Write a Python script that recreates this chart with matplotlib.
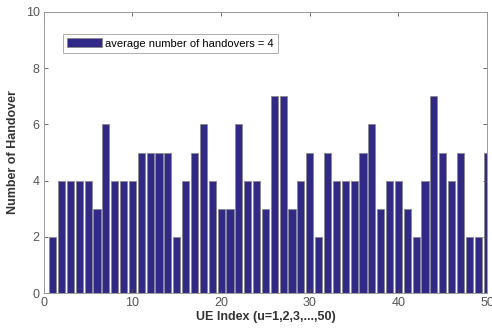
import matplotlib
matplotlib.use("Agg")
import matplotlib.pyplot as plt
import numpy as np

# handovers per UE
ue_index = list(range(1, 51))
handovers = [
    2, 4, 4, 4, 4, 3, 6, 4, 4, 4,
    5, 5, 5, 5, 2, 4, 5, 6, 4, 3,
    3, 6, 4, 4, 3, 7, 7, 3, 4, 5,
    2, 5, 4, 4, 4, 5, 6, 3, 4, 4,
    3, 2, 4, 7, 5, 4, 5, 2, 2, 5,
]
legend_label = "average number of handovers = 4"

plt.rcParams["font.family"] = ["Liberation Sans", "DejaVu Sans"]

fig = plt.figure(figsize=(4.92, 3.32), dpi=100)
ax = fig.add_axes([0.089, 0.117, 0.901, 0.847])

ax.bar(ue_index, handovers, width=0.8, color="#30298a",
       edgecolor="#8a8a8a", linewidth=0.6, label=legend_label)

ax.set_xlim(0, 50)
ax.set_ylim(0, 10)
ax.set_xticks(np.arange(0, 51, 10))
ax.set_yticks(np.arange(0, 11, 2))
ax.tick_params(direction="in", top=True, right=True, length=3,
               labelsize=9, colors="#555555", width=0.6, pad=3)
for s in ax.spines.values():
    s.set_color("#999999")
    s.set_linewidth(0.7)

ax.set_xlabel("UE Index (u=1,2,3,...,50)", fontsize=9, fontweight="bold",
              color="#333333", labelpad=1)
ax.set_ylabel("Number of Handover", fontsize=9, fontweight="bold",
              color="#333333", labelpad=5)

leg = ax.legend(loc="upper left", bbox_to_anchor=(0.03, 0.94), fontsize=8,
                frameon=True, fancybox=False, handlelength=3.2,
                handleheight=0.9, borderpad=0.35, handletextpad=0.3)
leg.get_frame().set_edgecolor("#999999")
leg.get_frame().set_linewidth(0.7)

fig.savefig("out.png", dpi=100)
